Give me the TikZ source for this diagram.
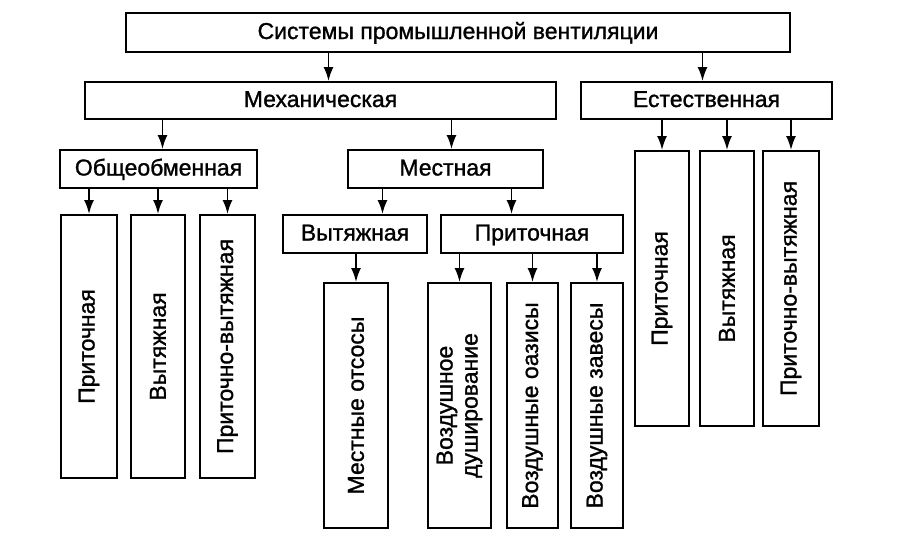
\documentclass[tikz,border=0pt]{standalone}
\usepackage{fontspec}
\setmainfont{Liberation Sans}[FakeBold=1.2]
\usetikzlibrary{arrows.meta,calc}

\tikzset{
  frame/.style={draw, line width=2pt, inner sep=0pt, font=\fontsize{23}{25}\selectfont},
  box/.style={frame, text height=17pt, text depth=4pt},
  vbox/.style={frame, rotate=90, align=center},
  arr/.style={line width=1.8pt, -{Latex[length=14pt,width=10pt]}}
}

\begin{document}
\begin{tikzpicture}[x=1pt,y=-1pt]
    \useasboundingbox (0,0) rectangle (911,544);

    % top level
    \node[box, minimum width=664pt, minimum height=39pt] (sys) at (458,32.5) {Системы промышленной вентиляции};
    \node[box, minimum width=471pt, minimum height=37pt] (mech) at (320.5,100.5) {Механическая};
    \node[box, minimum width=251pt, minimum height=37pt] (nat) at (706.5,100.5) {Естественная};

    % mechanical branch
    \node[box, minimum width=197pt, minimum height=38pt] (gen) at (158.5,169) {Общеобменная};
    \node[box, minimum width=195pt, minimum height=38pt] (loc) at (445.5,169) {Местная};

    \node[vbox, minimum width=263pt, minimum height=56pt] (gsup) at (89,346.5) {Приточная};
    \node[vbox, minimum width=263pt, minimum height=54pt] (gexh) at (158,346.5) {Вытяжная};
    \node[vbox, minimum width=263pt, minimum height=55pt] (gboth) at (227.5,346.5) {Приточно-вытяжная};

    \node[box, minimum width=144pt, minimum height=38pt] (lexh) at (355,234) {Вытяжная};
    \node[box, minimum width=182pt, minimum height=38pt] (lsup) at (532,234) {Приточная};

    \node[vbox, minimum width=245pt, minimum height=64pt] (hood) at (356,405.5) {Местные отсосы};
    \node[vbox, minimum width=245pt, minimum height=63pt] (shower) at (459.5,405.5) {Воздушное\\душирование};
    \node[vbox, minimum width=245pt, minimum height=51pt] (oasis) at (532.5,405.5) {Воздушные оазисы};
    \node[vbox, minimum width=245pt, minimum height=52pt] (curt) at (597,405.5) {Воздушные завесы};

    % natural branch
    \node[vbox, minimum width=275pt, minimum height=54pt] (nsup) at (662,288.5) {Приточная};
    \node[vbox, minimum width=275pt, minimum height=54pt] (nexh) at (727,288.5) {Вытяжная};
    \node[vbox, minimum width=275pt, minimum height=56pt] (nboth) at (791,288.5) {Приточно-вытяжная};

    % arrows
    \draw[arr] ([xshift=8pt]sys.south -| mech.north) -- ([xshift=8pt]mech.north);
    \draw[arr] ([xshift=-4pt]sys.south -| nat.north) -- ([xshift=-4pt]nat.north);
    \draw[arr] ([xshift=4pt]mech.south -| gen.north) -- ([xshift=4pt]gen.north);
    \draw[arr] ([xshift=6pt]mech.south -| loc.north) -- ([xshift=6pt]loc.north);
    \foreach \c in {gsup,gexh,gboth}
        \draw[arr] (gen.south -| \c.east) -- (\c.east);
    \draw[arr] ([xshift=-63pt]loc.south) -- ([xshift=-63pt]loc.south |- lexh.north);
    \draw[arr] ([xshift=66pt]loc.south) -- ([xshift=66pt]loc.south |- lsup.north);
    \draw[arr] (lexh.south -| hood.east) -- (hood.east);
    \foreach \c in {shower,oasis,curt}
        \draw[arr] (lsup.south -| \c.east) -- (\c.east);
    \foreach \c in {nsup,nexh,nboth}
        \draw[arr] (nat.south -| \c.east) -- (\c.east);
\end{tikzpicture}
\end{document}
